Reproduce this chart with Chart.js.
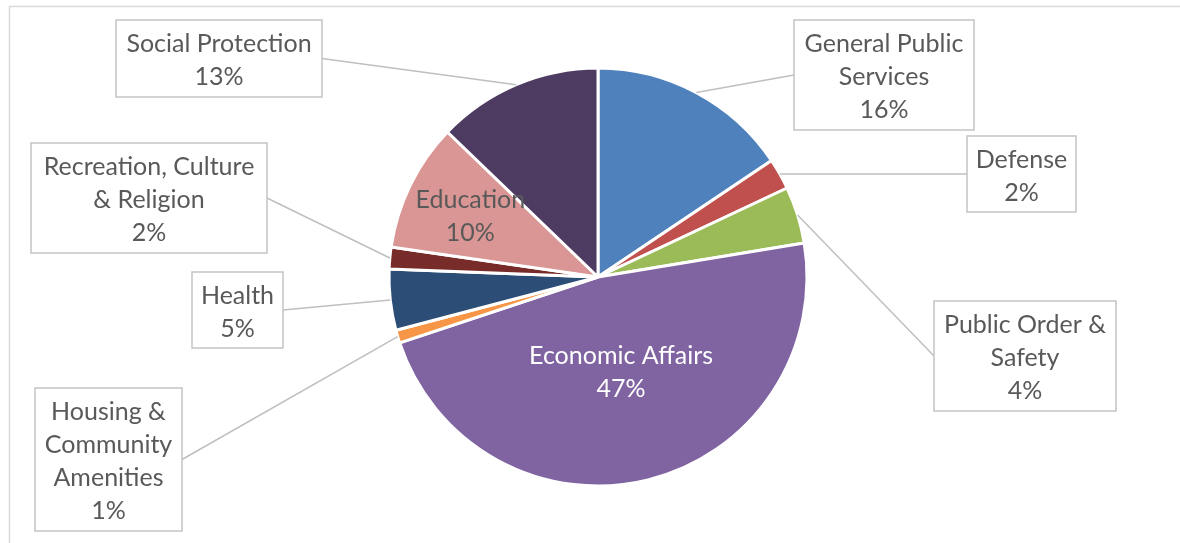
<!DOCTYPE html>
<html>
<head>
<meta charset="utf-8">
<script src="https://cdn.jsdelivr.net/npm/chart.js@4.4.0/dist/chart.umd.min.js"></script>
<style>
  html, body { margin: 0; padding: 0; background: #fff; }
  #wrap { width: 1180px; height: 543px; }
</style>
</head>
<body>
<div id="wrap"><canvas id="pie" width="1180" height="543"></canvas></div>
<script>
// Spending shares by function (percent of total)
const categories = [
  ['General Public', 'Services'],
  ['Defense'],
  ['Public Order &', 'Safety'],
  ['Economic Affairs'],
  ['Housing &', 'Community', 'Amenities'],
  ['Health'],
  ['Recreation, Culture', '& Religion'],
  ['Education'],
  ['Social Protection']
];
const shares = [15.6, 2.4, 4.4, 47.5, 1.0, 4.7, 1.7, 9.9, 12.8];
const sliceColors = ['#4F81BD', '#C0504D', '#9BBB59', '#8064A2', '#F79646', '#2C4D75', '#772C2A', '#D99694', '#4D3B62'];

// Callout boxes [x, y, w, h] for labels outside the pie; inner labels use a radius fraction
const callouts = {
  0: [794, 20, 180, 110],
  1: [967, 136, 109, 76],
  2: [934, 301, 182, 110],
  4: [35, 388, 147, 143],
  5: [192, 272, 91, 76],
  6: [31, 143, 236, 110],
  8: [116, 20, 206, 77]
};
const inside = {
  3: { r: 0.46, color: '#FFFFFF' },
  7: { r: 0.68, color: '#595959' }
};

const FONT = '25px Lato';
const LINE_H = 33;
const TEXT_NUDGE = 2;

const labelPlugin = {
  id: 'calloutLabels',
  beforeDraw(chart) {
    const ctx = chart.ctx;
    ctx.save();
    ctx.strokeStyle = '#D9D9D9';
    ctx.lineWidth = 1.5;
    ctx.strokeRect(9.5, 6.5, 1300, 700);
    ctx.restore();
  },
  afterDraw(chart) {
    const ctx = chart.ctx;
    const meta = chart.getDatasetMeta(0);
    const total = shares.reduce((a, b) => a + b, 0);
    ctx.save();
    ctx.font = FONT;
    ctx.textAlign = 'center';
    ctx.textBaseline = 'middle';

    const drawLines = (lines, cx, cy) => {
      lines.forEach((t, k) => {
        ctx.fillText(t, cx, cy + TEXT_NUDGE + (k - (lines.length - 1) / 2) * LINE_H);
      });
    };

    meta.data.forEach((arc, i) => {
      const { x, y, startAngle, endAngle, outerRadius } = arc.getProps(['x', 'y', 'startAngle', 'endAngle', 'outerRadius'], true);
      const mid = (startAngle + endAngle) / 2;
      const pct = Math.round(shares[i] / total * 100) + '%';
      const lines = categories[i].concat([pct]);

      if (inside[i]) {
        const r = outerRadius * inside[i].r;
        ctx.fillStyle = inside[i].color;
        drawLines(lines, x + Math.cos(mid) * r, y + Math.sin(mid) * r);
        return;
      }

      const [bx, by, bw, bh] = callouts[i];
      const ax = x + Math.cos(mid) * outerRadius;
      const ay = y + Math.sin(mid) * outerRadius;
      const ex = bx + bw / 2 > x ? bx : bx + bw;
      const ey = by + bh / 2;

      // leader line from slice edge to the box
      ctx.strokeStyle = '#BFBFBF';
      ctx.lineWidth = 1.5;
      ctx.beginPath();
      ctx.moveTo(ax, ay);
      ctx.lineTo(ex, ey);
      ctx.stroke();

      ctx.fillStyle = '#FFFFFF';
      ctx.fillRect(bx, by, bw, bh);
      ctx.strokeStyle = '#C4C4C4';
      ctx.lineWidth = 1.5;
      ctx.strokeRect(bx, by, bw, bh);

      ctx.fillStyle = '#595959';
      drawLines(lines, bx + bw / 2, by + bh / 2);
    });
    ctx.restore();
  }
};

new Chart(document.getElementById('pie'), {
  type: 'pie',
  data: {
    labels: categories.map(c => c.join(' ')),
    datasets: [{
      data: shares,
      backgroundColor: sliceColors,
      borderColor: '#FFFFFF',
      borderWidth: 3
    }]
  },
  options: {
    responsive: false,
    animation: false,
    radius: 209,
    layout: { padding: { left: 16, right: 0, top: 11, bottom: 0 } },
    plugins: {
      legend: { display: false },
      tooltip: { enabled: false }
    }
  },
  plugins: [labelPlugin]
});
</script>
</body>
</html>
